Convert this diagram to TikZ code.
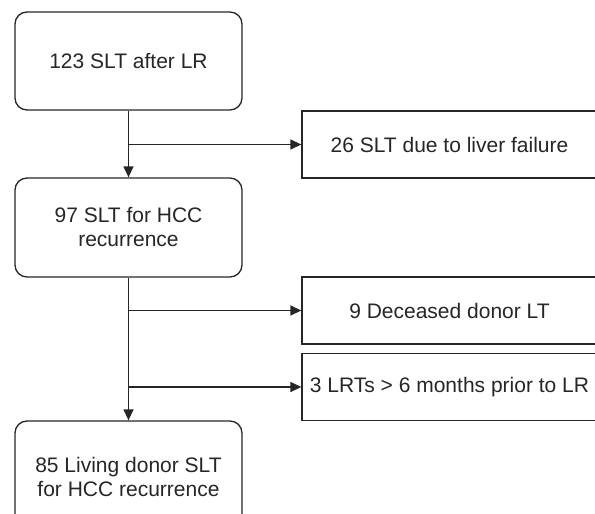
\documentclass[tikz,border=0pt]{standalone}
\usepackage{fontspec}
\setmainfont{Liberation Sans}
\usetikzlibrary{arrows.meta}
\begin{document}
\begin{tikzpicture}[x=1pt,y=-1pt,line width=1.3pt,draw=black!85,
	every node/.style={font=\fontsize{21}{24}\selectfont,align=center,inner sep=0pt,text=black!85},
	mainbox/.style={draw,rounded corners=12pt,minimum width=227pt},
	sidebox/.style={draw,minimum width=295pt,minimum height=67pt},
	arr/.style={-{Triangle[length=11pt,width=10pt]}}]
	\useasboundingbox (0,0) rectangle (595,514);
	\clip (0,0) rectangle (595,514);
	% main column
	\node[mainbox,minimum height=98pt] (after) at (128.5,61) {123 SLT after LR};
	\node[mainbox,minimum height=99pt] (recur) at (128.5,227.5) {97 SLT for HCC\\recurrence};
	\node[mainbox,minimum height=112pt] (living) at (128.5,477) {85 Living donor SLT\\for HCC recurrence};
	% excluded
	\node[sidebox] (failure) at (449.5,144.5) {26 SLT due to liver failure};
	\node[sidebox] (deceased) at (449.5,310.5) {9 Deceased donor LT};
	\node[sidebox] (prior) at (449.5,387) {3 LRTs > 6 months prior to LR};
	% arrows
	\draw[arr] (after) -- (recur);
	\draw[arr] (recur) -- (living);
	\draw[arr] (after.south |- failure.west) -- (failure.west);
	\draw[arr] (recur.south |- deceased.west) -- (deceased.west);
	\draw[arr] (recur.south |- prior.west) -- (prior.west);
\end{tikzpicture}
\end{document}
